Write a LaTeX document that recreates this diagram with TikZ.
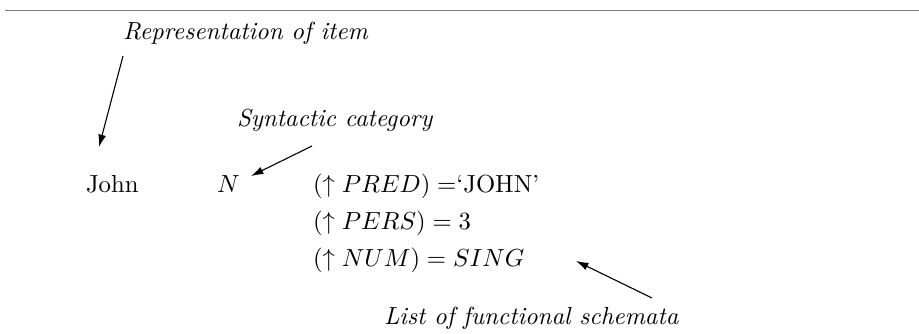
\documentclass[tikz,border=0pt]{standalone}
\usetikzlibrary{arrows.meta}
\begin{document}
\begin{tikzpicture}[x=0.405pt,y=-0.405pt,
  lbl/.style={anchor=base west,inner sep=0pt,outer sep=0pt},
  pointer/.style={-{Latex[length=5pt,width=3.2pt]},line width=0.45pt}]
\useasboundingbox (0,0) rectangle (919,334);
% rule across the top
\draw[line width=0.45pt,black!50] (5,10.5) -- (919,10.5);
% annotations
\node[lbl] (rep) at (123,40) {\itshape Representation of item};
\node[lbl] (syn) at (237,127) {\itshape Syntactic category};
\node[lbl] (lst) at (384,325) {\itshape List of functional schemata};
% lexical entry
\node[lbl] (john) at (86,193) {John};
\node[lbl] (cat) at (217,193) {$N$};
\node[lbl] (f1) at (313,193) {$(\uparrow PRED) =$`JOHN'};
\node[lbl] (f2) at (313,230) {$(\uparrow PERS) = 3$};
\node[lbl] (f3) at (313,267) {$(\uparrow NUM) = SING$};
% pointers
\coordinate (a1s) at (123,56);
\coordinate (a1e) at (99,147);
\coordinate (a2s) at (312,146);
\coordinate (a2e) at (251,176);
\coordinate (a3s) at (652,298);
\coordinate (a3e) at (576,261);
\draw[pointer] (a1s) -- (a1e);
\draw[pointer] (a2s) -- (a2e);
\draw[pointer] (a3s) -- (a3e);
\end{tikzpicture}
\end{document}
